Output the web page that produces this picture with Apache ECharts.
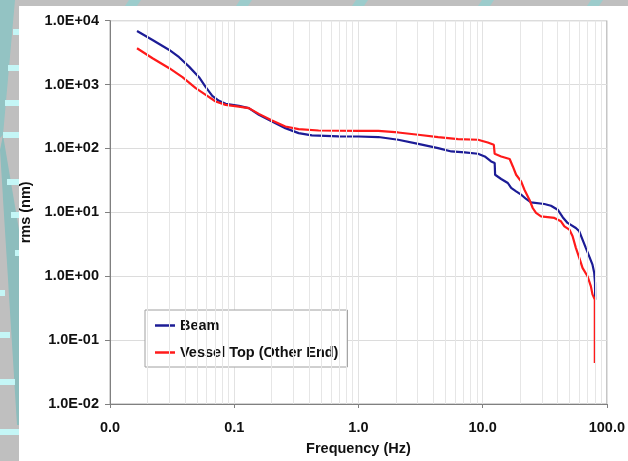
<!DOCTYPE html>
<html><head><meta charset="utf-8">
<script src="https://cdn.jsdelivr.net/npm/echarts@6/dist/echarts.min.js"></script>
<style>html,body{margin:0;padding:0;background:#bfbfbf}#c{width:628px;height:461px}</style>
</head><body><div id="c"></div>
<script>
// ---- data ----
const beamFreq = [0.0165,0.0220,0.0300,0.0360,0.0433,0.0521,0.0590,0.0666,0.0754,0.0853,0.109,0.131,0.158,0.2017,0.258,0.330,0.422,0.691,1.0,1.447,2.09,3.03,4.38,5.60,7.17,9.17,10.4,11.7,12.5,12.6,14.1,15.95,16.96,18.6,20.4,22.4,24.5,31.4,35.5,40.2,44.1,48.3,56.3,60.0,63.7,67.7,72.1,76.6,79.1,80.3,80.5];
const beamRms  = [6900,4990,3485,2680,1910,1305,911,666,556,499,465,428,336,264,208,174,160,155,154,151,137,118,101,89.8,86.6,82.6,75,62.6,59.2,38.8,33.3,28.8,24.1,21.3,18.9,16.2,14.3,13.5,12.7,11.0,8.4,6.83,5.70,5.05,3.75,2.78,2.05,1.52,1.13,0.79,0.43];
const vesselFreq = [0.0165,0.0220,0.0300,0.0383,0.049,0.059,0.0709,0.0853,0.109,0.131,0.158,0.2017,0.258,0.330,0.478,1.0,1.447,2.09,3.03,4.38,6.34,9.17,11.0,12.3,12.5,14.1,16.5,17.5,18.6,20.4,21.7,23.8,25.3,26.9,29.5,37.8,42.7,45.5,49.9,53.0,56.3,60.0,63.7,69.9,74.3,76.6,80.0,80.0];
const vesselRms  = [3705,2585,1804,1305,878,690,543,482,453,428,348,274,221,201,191,189,188,178,164,151,140,137,124,114,82.6,75,68.3,52.3,38.8,30.5,22.6,15.8,11.7,9.8,8.66,8.17,7.23,6.04,5.37,4.22,2.78,1.94,1.35,1.0,0.70,0.52,0.43,0.044];
const seriesNames = ['Beam','Vessel Top (Other End)'];
const xMin = 0.01, xMax = 100, yMin = 0.01, yMax = 10000;
// minor vertical grid values (2..9 within each decade)
const minorGridX = [];
[0.01,0.1,1,10].forEach(d => { for (let k = 2; k <= 9; k++) minorGridX.push(+(d*k).toPrecision(3)); });

const zip = (a,b) => a.map((v,i) => [v, b[i]]);
const FONT = "'Liberation Sans', Arial, sans-serif";
const sci = v => { const e = Math.round(Math.log10(v)); const a = Math.abs(e); return '1.0E' + (e < 0 ? '-' : '+') + (a < 10 ? '0' : '') + a; };

// ---- background decoration ----
const deco = [];
deco.push({type:'rect', shape:{x:19,y:6,width:609,height:455}, style:{fill:'#ffffff'}, z:-10});
[125,236,352,478,587].forEach(x0 => deco.push({type:'polygon', shape:{points:[[x0+4,0],[x0+16,0],[x0+12,6],[x0,6]]}, style:{fill:'#9ccccc'}, z:-10}));
deco.push({type:'polygon', shape:{points:[[0,0],[15,0],[3,135],[0,138]]}, style:{fill:'#93c3c3'}, z:-11});
deco.push({type:'polygon', shape:{points:[[0,150],[3,135],[19,230],[19,425],[17,425]]}, style:{fill:'#8dbdbd'}, z:-11});
[[32,13],[68,8],[103,5],[135,3],[182,7],[215,11],[253,15]].forEach(b => deco.push({type:'rect', shape:{x:b[1],y:b[0]-3,width:19-b[1],height:6}, style:{fill:'#c4f6f6'}, z:-10}));
[[293,5],[335,10],[382,15],[432,19]].forEach(b => deco.push({type:'rect', shape:{x:0,y:b[0]-3,width:b[1],height:6}, style:{fill:'#c4f6f6'}, z:-10}));

const chart = echarts.init(document.getElementById('c'));
chart.setOption({
  backgroundColor: '#bfbfbf',
  animation: false,
  textStyle: {fontFamily: FONT},
  graphic: deco,
  grid: {left:110, right:18.6, top:20.7, bottom:56, show:true, borderColor:'#a8a8a8', borderWidth:1, backgroundColor:'transparent'},
  legend: {
    orient:'vertical', left:145, top:310, data: seriesNames,
    icon:'rect', itemWidth:20, itemHeight:2.5,
    backgroundColor:'#ffffff', borderColor:'#a0a0a0', borderWidth:1,
    padding:[7,9,6,10], itemGap:10,
    textStyle:{fontFamily:FONT, fontSize:14.5, fontWeight:'bold', color:'#111', lineHeight:17}
  },
  xAxis: {
    type:'log', logBase:10, min:xMin, max:xMax, splitNumber:4,
    name:'Frequency (Hz)', nameLocation:'middle', nameGap:37,
    nameTextStyle:{fontFamily:FONT, fontSize:14.5, fontWeight:'bold', color:'#111'},
    axisLine:{lineStyle:{color:'#808080', width:1}},
    axisTick:{show:true, length:4, lineStyle:{color:'#808080'}},
    axisLabel:{formatter: v => v.toFixed(1), fontFamily:FONT, fontSize:14.5, fontWeight:'bold', color:'#111', margin:16},
    splitLine:{show:true, lineStyle:{color:'#e2e2e2', width:1}}
  },
  yAxis: {
    type:'log', logBase:10, min:yMin, max:yMax, splitNumber:6,
    name:'rms (nm)', nameLocation:'middle', nameGap:72, nameRotate:90,
    nameTextStyle:{fontFamily:FONT, fontSize:14.5, fontWeight:'bold', color:'#111'},
    axisLine:{show:true, lineStyle:{color:'#808080', width:1}},
    axisTick:{show:true, length:5, lineStyle:{color:'#808080'}},
    axisLabel:{formatter: sci, fontFamily:FONT, fontSize:14.5, fontWeight:'bold', color:'#111', margin:11},
    splitLine:{show:true, lineStyle:{color:'#dcdcdc', width:1}}
  },
  series: [
    {
      name: seriesNames[0], type:'line', data: zip(beamFreq, beamRms), showSymbol:false, symbol:'none',
      lineStyle:{color:'#1c1c96', width:2.2}, itemStyle:{color:'#1c1c96'}, z:3,
      markLine:{silent:true, symbol:['none','none'], label:{show:false}, animation:false,
        lineStyle:{color:'#e6e6e6', width:1, type:'solid'},
        data: minorGridX.map(v => ({xAxis:v}))}
    },
    {
      name: seriesNames[1], type:'line', data: zip(vesselFreq, vesselRms), showSymbol:false, symbol:'none',
      lineStyle:{color:'#ff1a1a', width:2.2}, itemStyle:{color:'#ff1a1a'}, z:4
    }
  ]
});
</script></body></html>
